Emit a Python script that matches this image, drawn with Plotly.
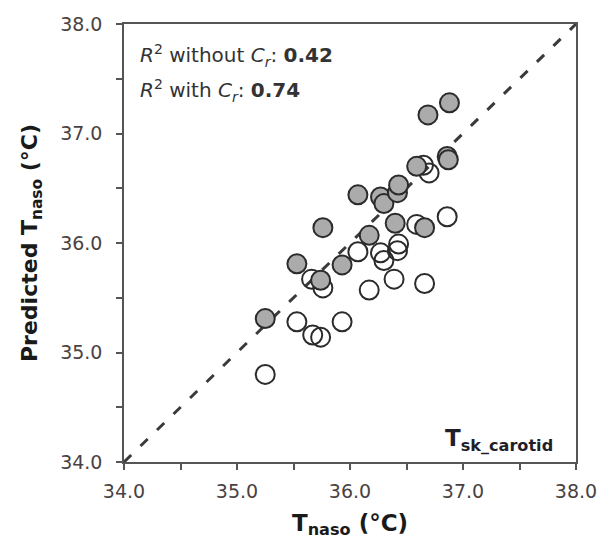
import plotly.graph_objects as go

# Measured vs predicted nasopharyngeal temperature (°C), T_sk_carotid model
t_naso_with = [35.25, 35.53, 35.74, 35.76, 35.93, 36.07, 36.17, 36.27, 36.30,
               36.40, 36.42, 36.43, 36.59, 36.66, 36.69, 36.86, 36.87, 36.88]
pred_with = [35.31, 35.81, 35.66, 36.14, 35.80, 36.44, 36.07, 36.42, 36.36,
             36.18, 36.46, 36.53, 36.70, 36.14, 37.17, 36.79, 36.76, 37.28]

t_naso_without = [35.25, 35.53, 35.67, 35.74, 35.93, 35.66, 35.76, 36.07, 36.17,
                  36.27, 36.30, 36.39, 36.42, 36.43, 36.59, 36.66, 36.65, 36.70, 36.86]
pred_without = [34.80, 35.28, 35.16, 35.14, 35.28, 35.67, 35.59, 35.92, 35.57,
                35.91, 35.84, 35.67, 35.93, 35.99, 36.17, 35.63, 36.71, 36.64, 36.24]

r2_without = 0.42
r2_with = 0.74

axis_range = [34.0, 38.0]
major_ticks = [34.0, 35.0, 36.0, 37.0, 38.0]
tick_text = [f"{v:.1f}" for v in major_ticks]

FONT = "DejaVu Sans"
EDGE = "#2b2b2b"
TICK_COLOR = "#4a4242"

fig = go.Figure()

# line of identity
fig.add_trace(go.Scatter(
    x=axis_range, y=axis_range, mode="lines",
    line=dict(color="#3a3a3a", width=3, dash="10px,13px"),
    hoverinfo="skip", showlegend=False,
))

# prediction without C_r (open circles)
fig.add_trace(go.Scatter(
    x=t_naso_without, y=pred_without, mode="markers",
    marker=dict(symbol="circle-open", size=19, color=EDGE,
                line=dict(color=EDGE, width=2)),
    showlegend=False,
))

# prediction with C_r (grey filled circles)
fig.add_trace(go.Scatter(
    x=t_naso_with, y=pred_with, mode="markers",
    marker=dict(symbol="circle", size=19, color="#ababab",
                line=dict(color=EDGE, width=2)),
    showlegend=False,
))

axis_common = dict(
    range=axis_range,
    tickvals=major_ticks, ticktext=tick_text,
    ticks="outside", ticklen=6, tickwidth=1.5, tickcolor="#555555",
    minor=dict(dtick=0.5, ticks="outside", ticklen=6, tickwidth=1.5,
               tickcolor="#555555", showgrid=False),
    showline=True, linecolor="#555555", linewidth=1.5, mirror=True,
    showgrid=False, zeroline=False,
    tickfont=dict(family=FONT, size=19, color=TICK_COLOR),
)

fig.update_xaxes(
    **axis_common,
    ticklabelstandoff=5,
    title=dict(text="T<sub>naso</sub> (°C)", standoff=14,
               font=dict(family=FONT, size=23, color="#1a1a1a", weight="bold")),
)
fig.update_yaxes(
    **axis_common,
    ticklabelstandoff=10,
    title=dict(text="Predicted T<sub>naso</sub> (°C)", standoff=16,
               font=dict(family=FONT, size=22, color="#1a1a1a", weight="bold")),
)

fig.add_annotation(
    xref="paper", yref="paper", x=0.031, y=0.928,
    xanchor="left", yanchor="middle", showarrow=False,
    text=f"<i>R</i><sup>2</sup> without <i>C</i><sub><i>r</i></sub>: <b>{r2_without:.2f}</b>",
    font=dict(family=FONT, size=20, color="#333333"),
)
fig.add_annotation(
    xref="paper", yref="paper", x=0.031, y=0.848,
    xanchor="left", yanchor="middle", showarrow=False,
    text=f"<i>R</i><sup>2</sup> with <i>C</i><sub><i>r</i></sub>: <b>{r2_with:.2f}</b>",
    font=dict(family=FONT, size=20, color="#333333"),
)
fig.add_annotation(
    xref="paper", yref="paper", x=0.954, y=0.012,
    xanchor="right", yanchor="bottom", showarrow=False,
    text="<b>T<sub>sk_carotid</sub></b>",
    font=dict(family=FONT, size=23, color="#1f1f2a"),
)

fig.update_layout(
    width=609, height=548,
    margin=dict(l=124, r=28, t=24, b=86),
    paper_bgcolor="white", plot_bgcolor="white",
    showlegend=False,
)

fig.write_html("out.html")
